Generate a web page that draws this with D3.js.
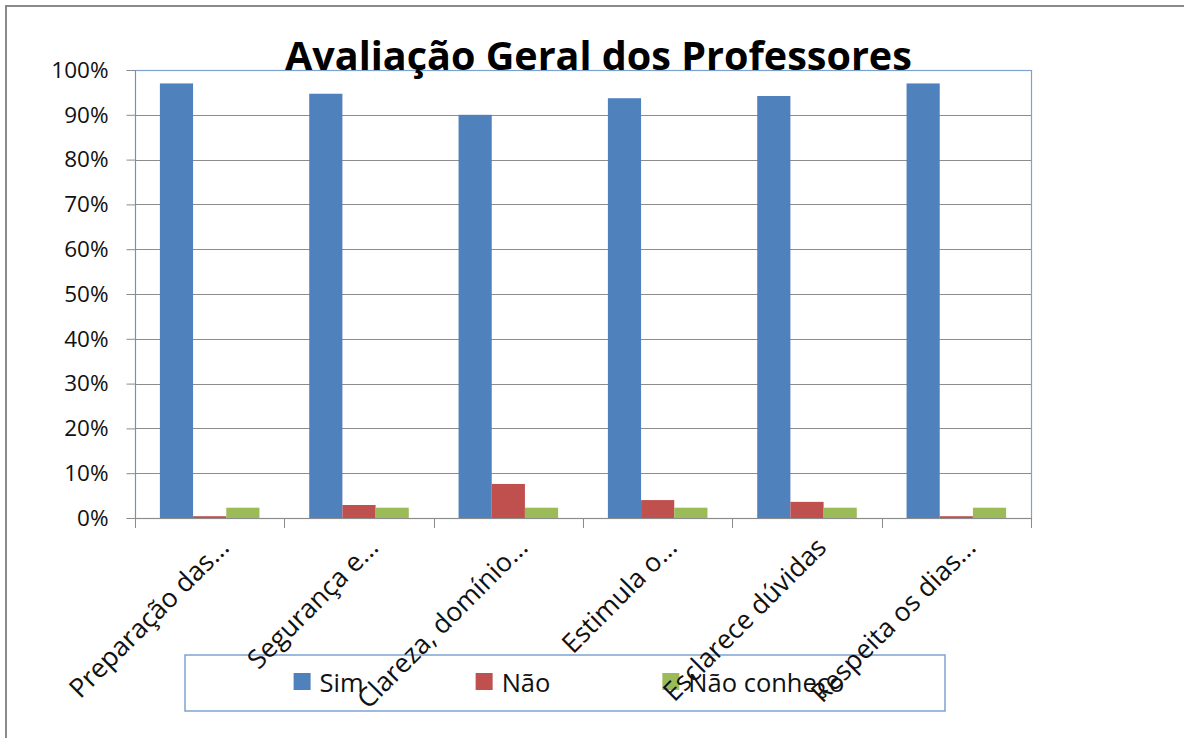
<!DOCTYPE html>
<html>
<head>
<meta charset="utf-8">
<script src="https://cdn.jsdelivr.net/npm/d3@7"></script>
<style>
  html, body { margin: 0; padding: 0; background: #fff; }
  svg { display: block; }
</style>
</head>
<body>
<svg id="chart" width="1184" height="738"></svg>
<script>
const title = "Avaliação Geral dos Professores";
const categories = ["Preparação das...", "Segurança e...", "Clareza, domínio...", "Estimula o...", "Esclarece dúvidas", "Respeita os dias..."];
const seriesNames = ["Sim", "Não", "Não conheço"];
const sim = [0.970, 0.947, 0.900, 0.937, 0.942, 0.970];
const nao = [0.004, 0.029, 0.076, 0.040, 0.036, 0.004];
const naoConheco = [0.023, 0.023, 0.023, 0.023, 0.023, 0.023];
const yTicks = [0, 0.1, 0.2, 0.3, 0.4, 0.5, 0.6, 0.7, 0.8, 0.9, 1.0];
const colors = ["#4f81bd", "#c0504d", "#9bbb59"];

const seriesValues = [sim, nao, naoConheco];
const svg = d3.select("#chart");
const FONT = "'Open Sans', 'Noto Sans', sans-serif";

const plot = { left: 135, right: 1031, top: 70, bottom: 518 };

// outer frame
svg.append("path")
  .attr("d", "M6,738 V6 H1184")
  .attr("fill", "none").attr("stroke", "#8a8a8a").attr("stroke-width", 2);

const x0 = d3.scaleBand().domain(categories).range([plot.left, plot.right]).paddingInner(0).paddingOuter(0);
const x1 = d3.scaleBand().domain(seriesNames).range([0, x0.bandwidth()]).paddingInner(0).paddingOuter(0.75);
const y = d3.scaleLinear().domain([0, 1]).range([plot.bottom, plot.top]);

// gridlines
svg.append("g").selectAll("line").data(yTicks.filter(t => t > 0 && t < 1)).join("line")
  .attr("x1", plot.left).attr("x2", plot.right)
  .attr("y1", d => Math.round(y(d)) + 0.5).attr("y2", d => Math.round(y(d)) + 0.5)
  .attr("stroke", "#8c8c8c").attr("stroke-width", 1);

// plot area border
svg.append("rect")
  .attr("x", plot.left + 0.5).attr("y", plot.top + 0.5)
  .attr("width", plot.right - plot.left).attr("height", plot.bottom - plot.top)
  .attr("fill", "none").attr("stroke", "#7da2d0").attr("stroke-width", 1.2);

// bars
const barData = [];
categories.forEach((c, i) => {
  seriesNames.forEach((s, j) => barData.push({ c, s, j, v: seriesValues[j][i] }));
});
svg.append("g").selectAll("rect").data(barData).join("rect")
  .attr("x", d => x0(d.c) + x1(d.s))
  .attr("width", x1.bandwidth())
  .attr("y", d => y(d.v))
  .attr("height", d => y(0) - y(d.v))
  .attr("fill", d => colors[d.j]);

// y axis
const yAxis = d3.axisLeft(y).tickValues(yTicks).tickFormat(d3.format(".0%")).tickSize(9).tickPadding(18);
const gy = svg.append("g").attr("transform", `translate(${plot.left + 0.5},0)`).call(yAxis);
gy.select(".domain").attr("stroke", "#8c8c8c").attr("d", `M0,${plot.top}V${plot.bottom}`);
gy.selectAll(".tick line").attr("stroke", "#8c8c8c");
gy.selectAll(".tick text").attr("font-family", FONT).attr("font-size", 22.5).attr("fill", "#111");

// x axis line + ticks at category boundaries
const bounds = categories.map(c => x0(c)).concat([plot.right]);
svg.append("line").attr("x1", plot.left).attr("x2", plot.right)
  .attr("y1", plot.bottom + 0.5).attr("y2", plot.bottom + 0.5)
  .attr("stroke", "#8c8c8c");
svg.append("g").selectAll("line").data(bounds).join("line")
  .attr("x1", d => Math.round(d) + 0.5).attr("x2", d => Math.round(d) + 0.5)
  .attr("y1", plot.bottom).attr("y2", plot.bottom + 10)
  .attr("stroke", "#8c8c8c");

// legend
const lg = svg.append("g");
lg.append("rect").attr("x", 185).attr("y", 655).attr("width", 760).attr("height", 56)
  .attr("fill", "none").attr("stroke", "#7da2d0").attr("stroke-width", 1.5);
const items = lg.selectAll("g.item").data(seriesNames).join("g").attr("class", "item");
items.append("rect").attr("width", 17).attr("height", 17).attr("y", 673)
  .attr("fill", (d, i) => colors[i]);
items.append("text").text(d => d).attr("y", 692)
  .attr("font-family", FONT).attr("font-size", 25.5).attr("fill", "#111");
const widths = [];
items.select("text").each(function () { widths.push(this.getComputedTextLength()); });
const gap = 112, sq = 17, sqGap = 9;
const total = widths.reduce((a, w) => a + sq + sqGap + w, 0) + gap * (widths.length - 1);
let cx = 569 - total / 2;
items.each(function (d, i) {
  const g = d3.select(this);
  g.select("rect").attr("x", cx);
  g.select("text").attr("x", cx + sq + sqGap);
  cx += sq + sqGap + widths[i] + gap;
});

// x labels (rotated)
svg.append("g").selectAll("text").data(categories).join("text")
  .attr("text-anchor", "end")
  .attr("font-family", FONT).attr("font-size", 26.5).attr("fill", "#111")
  .attr("transform", d => `translate(${x0(d) + x0.bandwidth() / 2 + 21},549) rotate(-45)`)
  .text(d => d);

// title
const t = svg.append("text").text(title)
  .attr("x", 598.5).attr("y", 70)
  .attr("text-anchor", "middle")
  .attr("font-family", FONT).attr("font-weight", "bold").attr("font-size", 38).attr("fill", "#000");
const tl = t.node().getComputedTextLength();
t.attr("font-size", 38 * 627 / tl);
</script>
</body>
</html>
